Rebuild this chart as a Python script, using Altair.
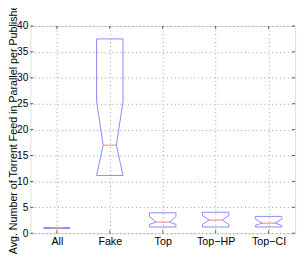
import json
import altair as alt
import pandas as pd

categories = ["All", "Fake", "Top", "Top\u2212HP", "Top\u2212CI"]
q1 = [1.0, 11.15, 1.2, 1.2, 1.2]
notch_lo = [1.0, 11.15, 1.7, 1.7, 1.5]
median = [1.0, 17.0, 2.15, 2.55, 1.95]
notch_hi = [1.0, 25.5, 3.2, 3.45, 2.75]
q3 = [1.0, 37.5, 3.95, 4.05, 3.25]
y_ticks = [0, 5, 10, 15, 20, 25, 30, 35, 40]
title = "Avg. Number of Torrent Feed in Parallel per Publisher"

HALF = 0.25   # half box width (category units)
NOTCH = 0.125  # half notch width

rows = []
med_rows = []
for i, c in enumerate(categories):
    p = i + 1
    pts = [(-HALF, q1[i]), (-HALF, notch_lo[i]), (-NOTCH, median[i]),
           (-HALF, notch_hi[i]), (-HALF, q3[i]), (HALF, q3[i]),
           (HALF, notch_hi[i]), (NOTCH, median[i]), (HALF, notch_lo[i]),
           (HALF, q1[i]), (-HALF, q1[i])]
    for k, (dx, yv) in enumerate(pts):
        rows.append({"cat": c, "k": k, "x": p + dx, "y": yv})
    med_rows.append({"cat": c, "x": p - NOTCH, "x2": p + NOTCH, "y": median[i]})

box_df = pd.DataFrame(rows)
med_df = pd.DataFrame(med_rows)
cat_df = pd.DataFrame({"x": list(range(1, len(categories) + 1))})
yt_df = pd.DataFrame({"y": y_ticks})

W, H = 272, 213
FONT = "Liberation Sans"
label_expr = json.dumps(categories) + "[datum.value - 1]"

xscale = alt.Scale(domain=[0.5, 5.5], nice=False, zero=False)
yscale = alt.Scale(domain=[0, 40], nice=False)

xaxis = alt.Axis(values=list(range(1, 6)), labelExpr=label_expr, title=None,
                 grid=True, gridDash=[1, 3], gridColor="#9a9a9a", ticks=False,
                 domain=False, labelPadding=3, labelFontSize=11, labelFont=FONT,
                 labelColor="black", labelOverlap=False)
yaxis = alt.Axis(values=y_ticks, title=title, grid=True, gridDash=[1, 3],
                 gridColor="#9a9a9a", ticks=False, domain=False, labelPadding=2.5,
                 labelFontSize=10.5, labelFont=FONT, labelColor="black",
                 labelOverlap=False,
                 titleFont=FONT, titleFontSize=11, titleFontWeight="normal",
                 titleColor="black", titleAngle=270, titleX=-23, titleY=104,
                 titleAlign="center", titleBaseline="top")

X = alt.X("x:Q", scale=xscale, axis=xaxis)
Y = alt.Y("y:Q", scale=yscale, axis=yaxis)

box = alt.Chart(box_df).mark_line(color="#8888ff", strokeWidth=1).encode(
    x=X, y=Y, detail="cat:N", order="k:Q",
)

med = alt.Chart(med_df).mark_rule(color="#ff7a7a", strokeWidth=1).encode(
    x=X, x2="x2:Q", y=Y
)

tick_color = "#555555"
tb = alt.Chart(cat_df).mark_rule(color=tick_color).encode(
    x=X, y=alt.value(H), y2=alt.value(H - 3))
tt = alt.Chart(cat_df).mark_rule(color=tick_color).encode(
    x=X, y=alt.value(0), y2=alt.value(3))
tl = alt.Chart(yt_df).mark_rule(color=tick_color).encode(
    y=Y, x=alt.value(0), x2=alt.value(3))
tr = alt.Chart(yt_df).mark_rule(color=tick_color).encode(
    y=Y, x=alt.value(W), x2=alt.value(W - 3))

chart = alt.layer(box, med, tb, tt, tl, tr).properties(
    width=W, height=H,
    autosize=alt.AutoSizeParams(type="none"),
    padding={"left": 23, "top": 15, "right": 2, "bottom": 23},
).configure_view(stroke="#666666", strokeWidth=1).configure(background="white")

chart.save("out.html", embed_options={"renderer": "svg", "actions": False})
